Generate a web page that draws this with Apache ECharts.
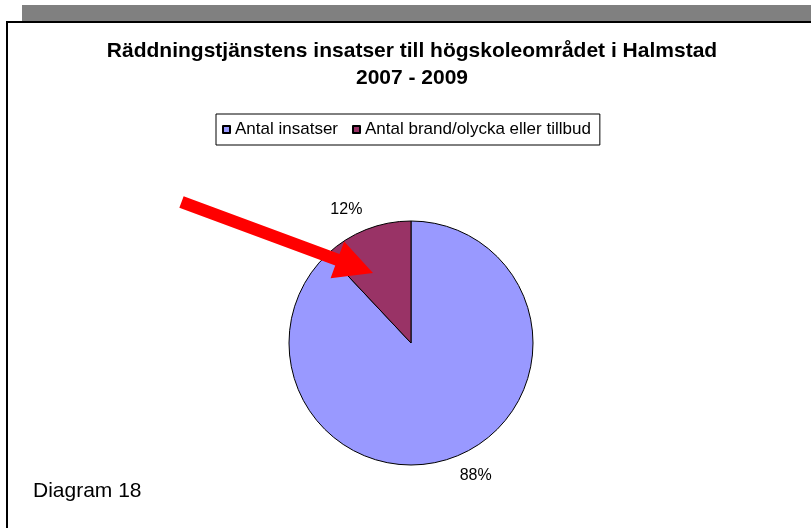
<!DOCTYPE html>
<html>
<head>
<meta charset="utf-8">
<title>Diagram 18</title>
<script src="https://cdn.jsdelivr.net/npm/echarts@6/dist/echarts.min.js"></script>
<style>
  html, body { margin: 0; padding: 0; background: #fff; }
  #chart { width: 811px; height: 528px; }
</style>
</head>
<body>
<div id="chart"></div>
<script>
// data
const categories = ['Antal insatser', 'Antal brand/olycka eller tillbud']
const shares = [88, 12]
const sliceColors = ['#9999FF', '#993366']

const titleText = 'Räddningstjänstens insatser till högskoleområdet i Halmstad\n2007 - 2009'
const noteText = 'Diagram 18'
const font = '"Liberation Sans", Arial, sans-serif'

// red pointer arrow (annotation, not data)
function arrowPoints(tail, tip, shaftHalf, headLen, headHalf) {
  const dx = tip[0] - tail[0]
  const dy = tip[1] - tail[1]
  const len = Math.sqrt(dx * dx + dy * dy)
  const ux = dx / len, uy = dy / len
  const nx = -uy, ny = ux
  const bx = tip[0] - ux * headLen
  const by = tip[1] - uy * headLen
  return [
    [tail[0] - nx * shaftHalf, tail[1] - ny * shaftHalf],
    [bx - nx * shaftHalf, by - ny * shaftHalf],
    [bx - nx * headHalf, by - ny * headHalf],
    tip,
    [bx + nx * headHalf, by + ny * headHalf],
    [bx + nx * shaftHalf, by + ny * shaftHalf],
    [tail[0] + nx * shaftHalf, tail[1] + ny * shaftHalf]
  ]
}

const chart = echarts.init(document.getElementById('chart'))

const option = {
  backgroundColor: '#fff',
  animation: false,
  color: sliceColors,
  title: [
    {
      text: titleText,
      left: 412,
      top: 38,
      textAlign: 'center',
      padding: 0,
      textStyle: {
        fontFamily: font,
        fontSize: 21,
        fontWeight: 'bold',
        color: '#000',
        lineHeight: 27
      }
    },
    {
      text: noteText,
      left: 33,
      top: 481,
      padding: 0,
      textStyle: {
        fontFamily: font,
        fontSize: 21,
        fontWeight: 'normal',
        color: '#000'
      }
    }
  ],
  legend: {
    data: categories,
    left: 216,
    top: 114,
    orient: 'horizontal',
    icon: 'rect',
    itemWidth: 7,
    itemHeight: 7,
    itemGap: 14,
    padding: [7, 9, 7, 6],
    borderColor: '#000',
    borderWidth: 1,
    textStyle: {
      fontFamily: font,
      fontSize: 17,
      color: '#000'
    }
  },
  graphic: [
    {
      type: 'rect',
      shape: { x: 22, y: 5, width: 800, height: 16 },
      style: { fill: '#808080' },
      z: 0
    },
    {
      type: 'rect',
      shape: { x: 7, y: 22, width: 830, height: 540 },
      style: { fill: 'none', stroke: '#000', lineWidth: 2 },
      z: 0
    },
    {
      type: 'polygon',
      shape: { points: arrowPoints([181.5, 202], [373, 273], 6.2, 38, 19.6) },
      style: { fill: '#ff0000' },
      z: 100
    }
  ],
  series: [
    {
      type: 'pie',
      center: [411, 343],
      radius: 122,
      startAngle: 90,
      clockwise: true,
      percentPrecision: 0,
      avoidLabelOverlap: false,
      itemStyle: {
        borderColor: '#000',
        borderWidth: 1
      },
      label: {
        show: true,
        position: 'outside',
        formatter: '{d}%',
        fontFamily: font,
        fontSize: 16,
        color: '#000',
        distanceToLabelLine: -4
      },
      labelLine: {
        show: false,
        length: 21,
        length2: 0
      },
      emphasis: { disabled: true },
      data: categories.map((name, i) => ({ name: name, value: shares[i] }))
    }
  ]
}

chart.setOption(option)
</script>
</body>
</html>
